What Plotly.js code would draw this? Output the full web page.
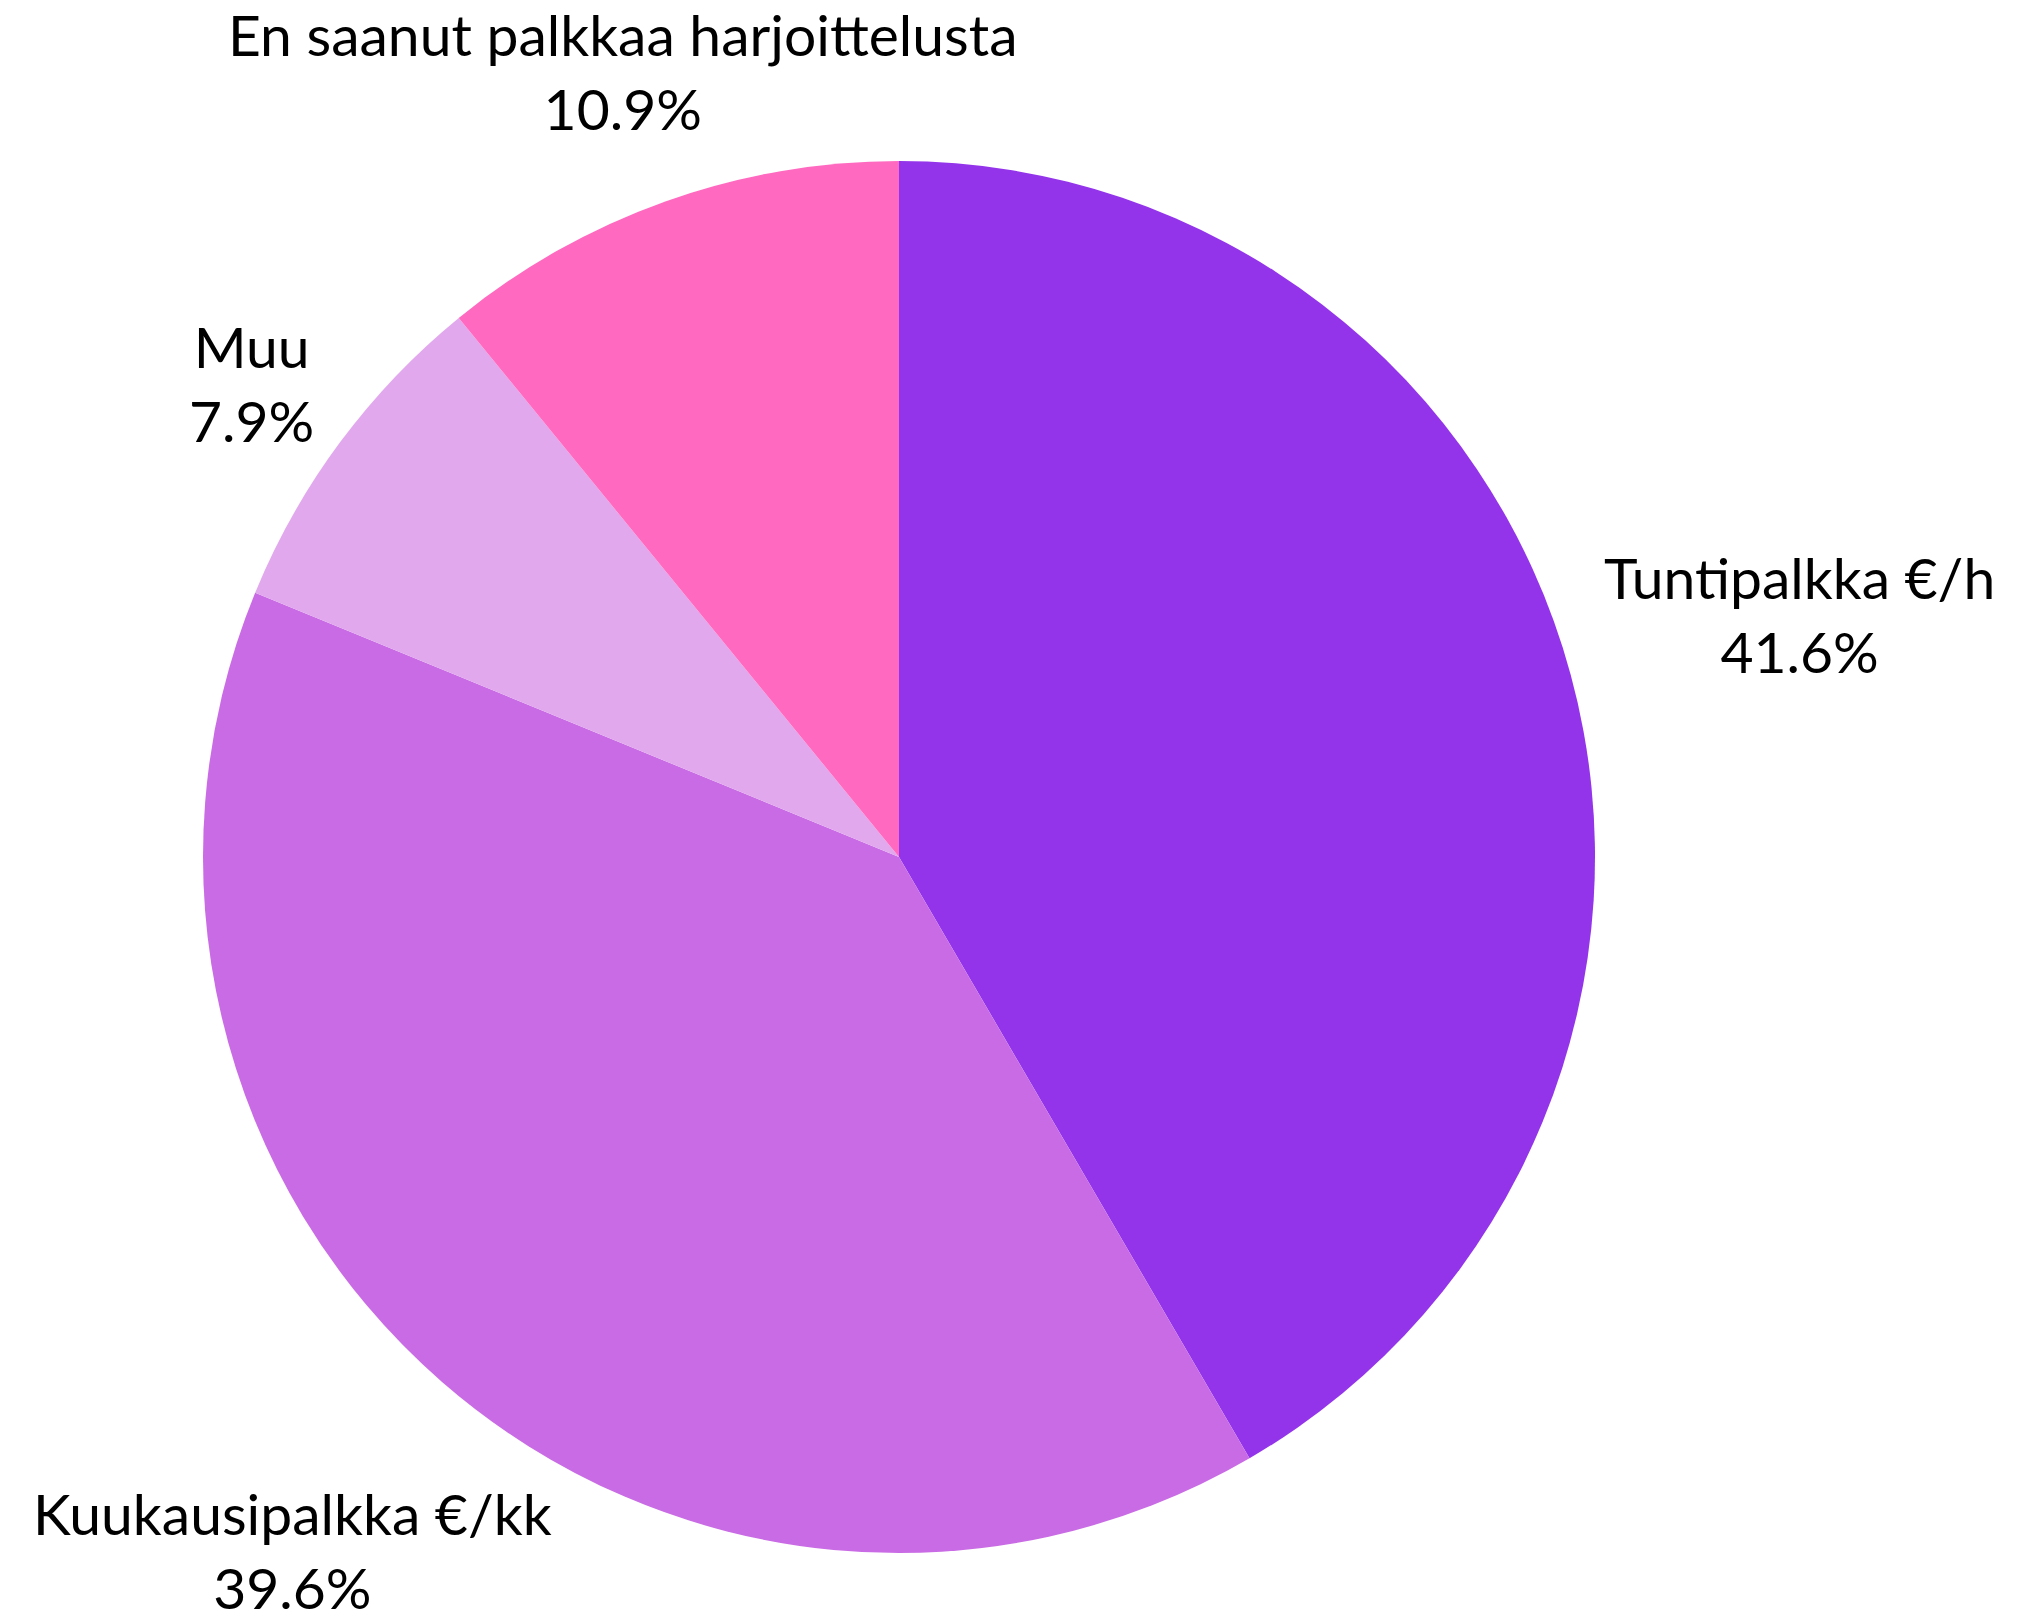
<!DOCTYPE html>
<html>
<head>
<meta charset="utf-8">
<script src="https://cdn.plot.ly/plotly-3.0.1.min.js"></script>
<style>html,body{margin:0;padding:0;background:#fff;}#chart{width:2017px;height:1621px;}</style>
</head>
<body>
<div id="chart"></div>
<script>
const labels = ["Tuntipalkka €/h", "Kuukausipalkka €/kk", "Muu", "En saanut palkkaa harjoittelusta"];
const values = [41.6, 39.6, 7.9, 10.9];
const colors = ["#9333EA", "#C96BE4", "#E1A8EE", "#FF69C0"];
// label offsets (px) from the slice's mid-angle point on the rim
const labelShiftX = [229, -150, -88, -43];
const labelShiftY = [61, -168, 60, 130];

const total = values.reduce((a, b) => a + b, 0);
let cum = 0;
const annotations = values.map((v, i) => {
  const mid = (cum + v / 2) / total * 2 * Math.PI;
  cum += v;
  return {
    xref: "paper", yref: "paper",
    x: 0.5 + 0.5 * Math.sin(mid),
    y: 0.5 + 0.5 * Math.cos(mid),
    xshift: labelShiftX[i], yshift: labelShiftY[i],
    xanchor: "center", yanchor: "middle", align: "center",
    showarrow: false,
    text: labels[i] + "<br>" + (v / total * 100).toFixed(1) + "%",
    font: {family: "Lato, sans-serif", size: 57, color: "#000"}
  };
});

Plotly.newPlot("chart", [{
  type: "pie",
  labels: labels,
  values: values,
  sort: false,
  direction: "clockwise",
  rotation: 0,
  marker: {colors: colors, line: {width: 0}},
  textinfo: "none",
  automargin: false,
  showlegend: false,
  hoverinfo: "none"
}], {
  width: 2017,
  height: 1621,
  margin: {l: 203, r: 422, t: 161, b: 68},
  paper_bgcolor: "#fff",
  showlegend: false,
  annotations: annotations
}, {displayModeBar: false, staticPlot: true});
</script>
</body>
</html>
